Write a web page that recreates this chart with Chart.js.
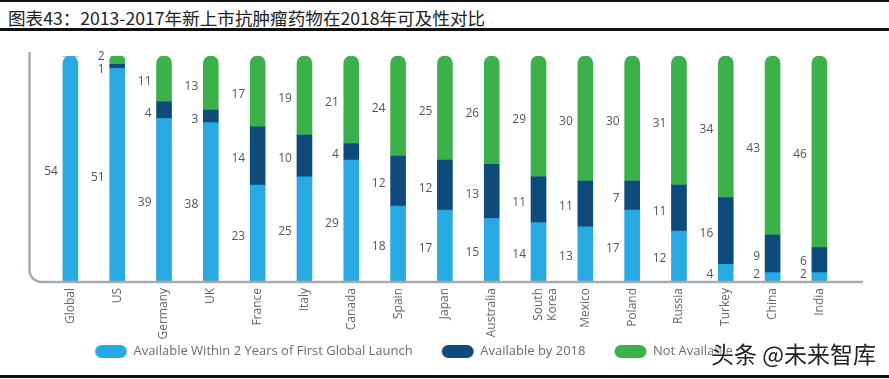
<!DOCTYPE html>
<html>
<head>
<meta charset="utf-8">
<script src="https://cdn.jsdelivr.net/npm/chart.js@4.4.0/dist/chart.umd.min.js"></script>
<style>
  body { margin: 0; background: #fff; width: 889px; height: 379px; position: relative; overflow: hidden; }
  .line { position: absolute; left: 0; width: 889px; background: #111; }
  .title { position: absolute; left: 8px; top: 5px; font: 17.6px "Noto Sans CJK SC", sans-serif; color: #222; line-height: 26px; }
  /* canvas sticks out on the left so the legend sits left of page centre, like the source */
  #wrap { position: absolute; left: -38.4px; top: 33px; width: 927.4px; height: 340px; }
  .wm { position: absolute; left: 711px; top: 336px; font: 23px "Noto Sans CJK SC", sans-serif; color: #222;
        text-shadow: 0 0 2px #fff, 0 0 2px #fff, 0 0 3px #fff; }
</style>
</head>
<body>
<div class="line" style="top:0;height:2px"></div>
<div class="title">图表43：2013-2017年新上市抗肿瘤药物在2018年可及性对比</div>
<div class="line" style="top:28px;height:3px"></div>
<div id="wrap"><canvas id="chart"></canvas></div>
<div class="wm">头条 @未来智库</div>
<div class="line" style="top:375px;height:3px"></div>
<script>
const categories = ["Global", "US", "Germany", "UK", "France", "Italy", "Canada", "Spain", "Japan",
  "Australia", ["South", "Korea"], "Mexico", "Poland", "Russia", "Turkey", "China", "India"];
const within2Years = [54, 51, 39, 38, 23, 25, 29, 18, 17, 15, 14, 13, 17, 12, 4, 2, 2];
const by2018 = [0, 1, 4, 3, 14, 10, 4, 12, 12, 13, 11, 11, 7, 11, 16, 9, 6];
const notAvailable = [0, 2, 11, 13, 17, 19, 21, 24, 25, 26, 29, 30, 30, 31, 34, 43, 46];
const seriesNames = ["Available Within 2 Years of First Global Launch", "Available by 2018", "Not Available"];
const colors = ["#29a9e1", "#0e4b7a", "#3cb14b"];

const markerW = 55; // legend box slot; pill sits at its right end

// legend marker: pill on the right part of a wider image, leaves a gap before each item
function pill(color) {
  const c = document.createElement("canvas");
  c.width = markerW * 2; c.height = 13;
  const g = c.getContext("2d");
  g.fillStyle = color;
  g.beginPath();
  g.roundRect(markerW * 1.5 - 32, 0, 32, 13, 6.5);
  g.fill();
  return c;
}

// value labels to the left of each segment
const segLabels = {
  id: "segLabels",
  afterDatasetsDraw(chart) {
    const ctx = chart.ctx;
    ctx.save();
    ctx.font = "12px 'Open Sans'";
    ctx.fillStyle = "#555";
    ctx.textAlign = "right";
    ctx.textBaseline = "middle";
    categories.forEach((c, i) => {
      let prevY = null;
      chart.data.datasets.forEach((ds, d) => {
        const v = ds.data[i];
        if (!v) return;
        const bar = chart.getDatasetMeta(d).data[i];
        let y = (bar.y + bar.base) / 2 + 3;
        y = Math.min(y, chart.chartArea.bottom - 6);
        if (prevY !== null && prevY - y < 13) y = prevY - 13;
        ctx.fillText(String(v), bar.x - bar.width / 2 - 5, y);
        prevY = y;
      });
    });
    ctx.restore();
  }
};

// grey L-shaped axis with rounded corner
const axisLine = {
  id: "axisLine",
  afterDatasetsDraw(chart) {
    const { left, right, top, bottom } = chart.chartArea;
    const ctx = chart.ctx;
    const L = left - 17.5, B = bottom + 1, R = right + 20, r = 12;
    ctx.save();
    ctx.strokeStyle = "#a7aaae";
    ctx.lineWidth = 2.5;
    ctx.beginPath();
    ctx.moveTo(L, top - 4);
    ctx.lineTo(L, B - r);
    ctx.arcTo(L, B, L + r, B, r);
    ctx.lineTo(R, B);
    ctx.stroke();
    ctx.restore();
  }
};

new Chart(document.getElementById("chart"), {
  type: "bar",
  data: {
    labels: categories,
    datasets: [within2Years, by2018, notAvailable].map((arr, k) => ({
      label: seriesNames[k],
      data: arr,
      backgroundColor: colors[k],
      barThickness: 15,
      borderRadius: 8,
      borderSkipped: "start",
      pointStyle: pill(colors[k])
    }))
  },
  options: {
    responsive: true,
    maintainAspectRatio: false,
    animation: false,
    layout: { padding: { left: 0, right: 46.6, top: 23, bottom: 5 } },
    scales: {
      x: {
        stacked: true,
        grid: { display: false, drawTicks: false },
        border: { display: false },
        ticks: { maxRotation: 90, minRotation: 90, padding: 7, color: "#666", font: { family: "Open Sans", size: 12 } },
        afterFit(s) { s.height = 58; }
      },
      y: {
        stacked: true, min: 0, max: 54,
        grid: { display: false, drawTicks: false },
        border: { display: false },
        ticks: { display: false },
        afterFit(s) { s.width = 85; }
      }
    },
    plugins: {
      legend: {
        position: "bottom",
        labels: {
          usePointStyle: true,
          pointStyleWidth: markerW,
          boxHeight: 13,
          padding: 6,
          color: "#6b6b6b",
          font: { family: "Open Sans", size: 13 }
        }
      },
      tooltip: { enabled: false }
    }
  },
  plugins: [segLabels, axisLine]
});
</script>
</body>
</html>
